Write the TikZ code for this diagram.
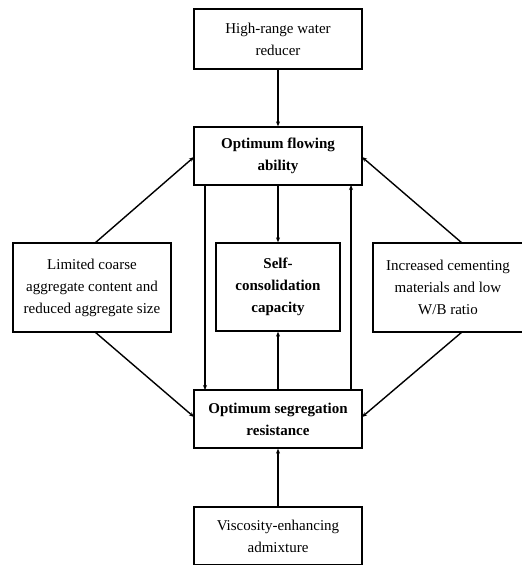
\documentclass[tikz,border=0pt]{standalone}
\usepackage{fontspec}
\setmainfont{Liberation Serif}
\usetikzlibrary{arrows.meta}
\begin{document}
\begin{tikzpicture}[x=1pt,y=-1pt,
  box/.style={draw,line width=1.3pt,inner sep=0pt,align=center,font=\fontsize{15}{22}\selectfont},
  bbox/.style={box,font=\fontsize{15}{22}\selectfont\bfseries},
  arr/.style={line width=1.4pt,-{Stealth[length=5pt,width=4pt]}}]
\useasboundingbox (0,0) rectangle (522,565);
\node[box,minimum width=168pt,minimum height=60pt] (hr) at (278,39) {High-range water\\reducer};
\node[bbox,minimum width=168pt,minimum height=58pt] (fl) at (278,156) {Optimum flowing\\ability};
\node[box,minimum width=158pt,minimum height=89pt] (lc) at (92,287.5) {Limited coarse\\aggregate content and\\reduced aggregate size};
\node[bbox,minimum width=124pt,minimum height=88pt] (sc) at (278,287) {Self-\\consolidation\\capacity};
\node[box,minimum width=150pt,minimum height=89pt] (ic) at (448,287.5) {Increased cementing\\materials and low\\W/B ratio};
\node[bbox,minimum width=168pt,minimum height=58pt] (sr) at (278,419) {Optimum segregation\\resistance};
\node[box,minimum width=168pt,minimum height=58pt] (va) at (278,536) {Viscosity-enhancing\\admixture};
\coordinate (flL) at (205,185);
\coordinate (srL) at (205,390);
\coordinate (flR) at (351,185);
\coordinate (srR) at (351,390);
\coordinate (lcT) at (95,243);
\coordinate (lcB) at (95,332);
\coordinate (icT) at (462,243);
\coordinate (icB) at (462,332);
\coordinate (flW) at (194,157);
\coordinate (flE) at (362,157);
\coordinate (srW) at (194,417);
\coordinate (srE) at (362,417);
\draw[arr] (hr.south) -- (fl.north);
\draw[arr] (fl.south) -- (sc.north);
\draw[arr] (sr.north) -- (sc.south);
\draw[arr] (va.north) -- (sr.south);
\draw[arr] (flL) -- (srL);
\draw[arr] (srR) -- (flR);
\draw[arr] (lcT) -- (flW);
\draw[arr] (icT) -- (flE);
\draw[arr] (lcB) -- (srW);
\draw[arr] (icB) -- (srE);
\end{tikzpicture}
\end{document}
